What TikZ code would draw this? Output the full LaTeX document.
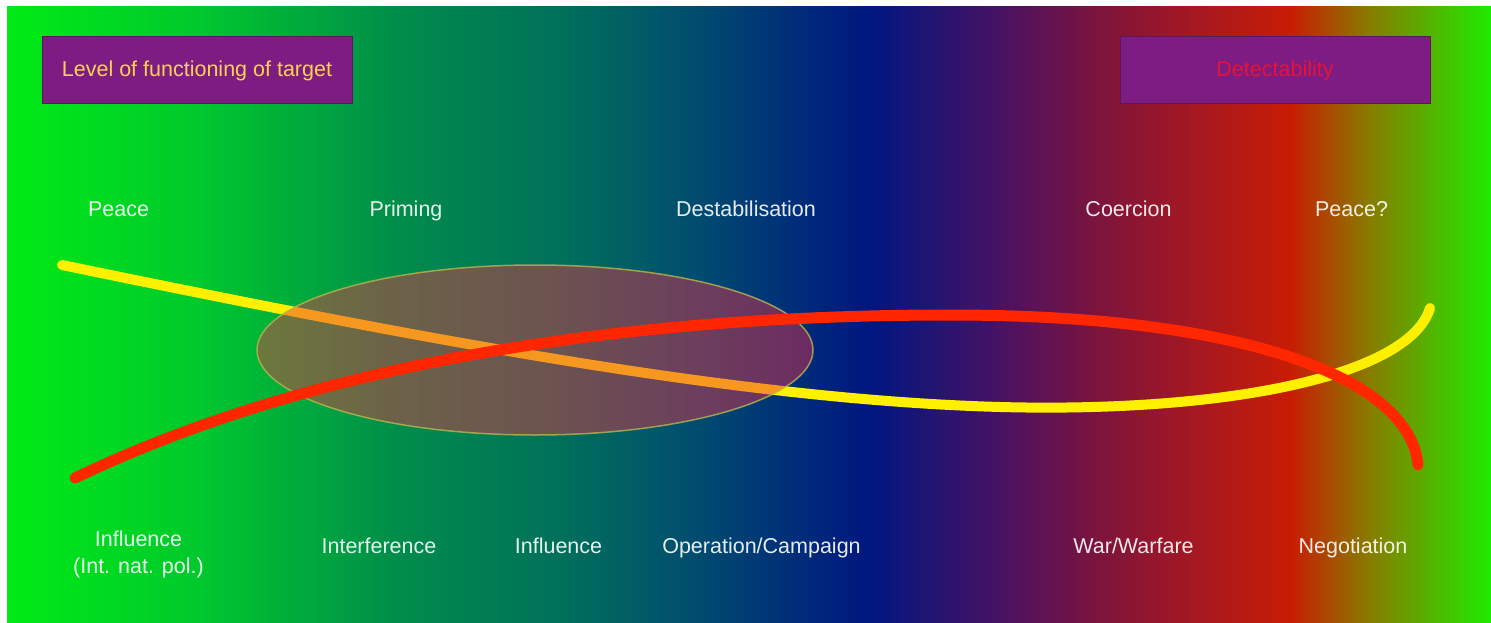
\documentclass[tikz,border=0pt]{standalone}
\usepackage{fontspec}
\setmainfont{Liberation Sans}
\usetikzlibrary{shapes.geometric}

\definecolor{bgA}{RGB}{0,235,20}
\definecolor{bgB}{RGB}{0,200,45}
\definecolor{bgC}{RGB}{0,140,75}
\definecolor{bgD}{RGB}{0,112,90}
\definecolor{bgE}{RGB}{0,75,112}
\definecolor{bgF}{RGB}{0,22,128}
\definecolor{bgG}{RGB}{72,18,100}
\definecolor{bgH}{RGB}{125,20,60}
\definecolor{bgI}{RGB}{168,24,32}
\definecolor{bgJ}{RGB}{200,28,5}
\definecolor{bgK}{RGB}{135,125,0}
\definecolor{bgL}{RGB}{30,235,0}
\definecolor{boxpurple}{RGB}{125,28,130}
\definecolor{boxedge}{RGB}{95,20,95}
\definecolor{levelgold}{RGB}{255,208,85}
\definecolor{detectred}{RGB}{228,20,55}
\definecolor{curveyellow}{RGB}{255,240,0}
\definecolor{curvered}{RGB}{255,38,0}
\definecolor{blobfill}{RGB}{236,48,70}
\definecolor{blobedge}{RGB}{185,180,80}

\pgfdeclarehorizontalshading{spectrum}{100bp}{color(0bp)=(bgA); color(25bp)=(bgA); color(31.5bp)=(bgB); color(38.24bp)=(bgC); color(43.63bp)=(bgD); color(48.35bp)=(bgE); color(54.08bp)=(bgF); color(58.46bp)=(bgG); color(61.83bp)=(bgH); color(65.2bp)=(bgI); color(68.23bp)=(bgJ); color(70.92bp)=(bgK); color(75bp)=(bgL); color(100bp)=(bgL)}

\begin{document}
\begin{tikzpicture}[x=1pt, y=-1pt,
		phase/.style={text=white, text opacity=.9, font=\fontsize{21.5}{27}\selectfont, anchor=base},
		titlebox/.style={fill=boxpurple, draw=boxedge, line width=1pt, minimum width=310pt, minimum height=67pt, inner sep=0pt, font=\fontsize{21.5}{27}\selectfont},
		track/.style={line width=10pt, line cap=round}]
			%%%%% START %%%%%
			
			\useasboundingbox (0, 0) rectangle (1491, 623);
			\fill[white] (0, 0) rectangle (1491, 623);
			\shade[shading=spectrum] (7, 7) rectangle (1491, 623);
			
			\node[titlebox, text=levelgold] (levelbox) at (197, 70.5) {Level of functioning of target};
			\node[titlebox, text=detectred] (detectbox) at (1275, 70.5) {Detectability};
			
			\node[phase] (peaceA) at (118.5, 216) {Peace};
			\node[phase] (priming) at (406, 216) {Priming};
			\node[phase] (destab) at (746, 216) {Destabilisation};
			\node[phase] (coercion) at (1128.5, 216) {Coercion};
			\node[phase] (peaceB) at (1351.5, 216) {Peace?};
			
			\draw[track, curveyellow] (62, 265) .. controls (450, 345) and (750, 400) .. (1000, 407) .. controls (1230, 413) and (1410, 375) .. (1430, 308);
			
			\node[ellipse, fill=blobfill, fill opacity=.46, draw=blobedge, draw opacity=.8, line width=1.5pt, minimum width=556pt, minimum height=170pt, inner sep=0pt] (overlap) at (535, 350) {};
			
			\draw[track, curvered, line width=11pt] (75, 478) .. controls (300, 370) and (600, 315) .. (950, 315) .. controls (1250, 315) and (1410, 380) .. (1418, 465);
			
			\node[phase, align=center] (influenceA) at (138.5, 573) {Influence\\(Int. nat. pol.)};
			\node[phase] (interference) at (379, 553) {Interference};
			\node[phase] (influenceB) at (558.5, 553) {Influence};
			\node[phase] (operation) at (761.5, 553) {Operation/Campaign};
			\node[phase] (war) at (1133.5, 553) {War/Warfare};
			\node[phase] (negotiation) at (1353, 553) {Negotiation};
			
			%%%%% END %%%%%
		\end{tikzpicture}
\end{document}
